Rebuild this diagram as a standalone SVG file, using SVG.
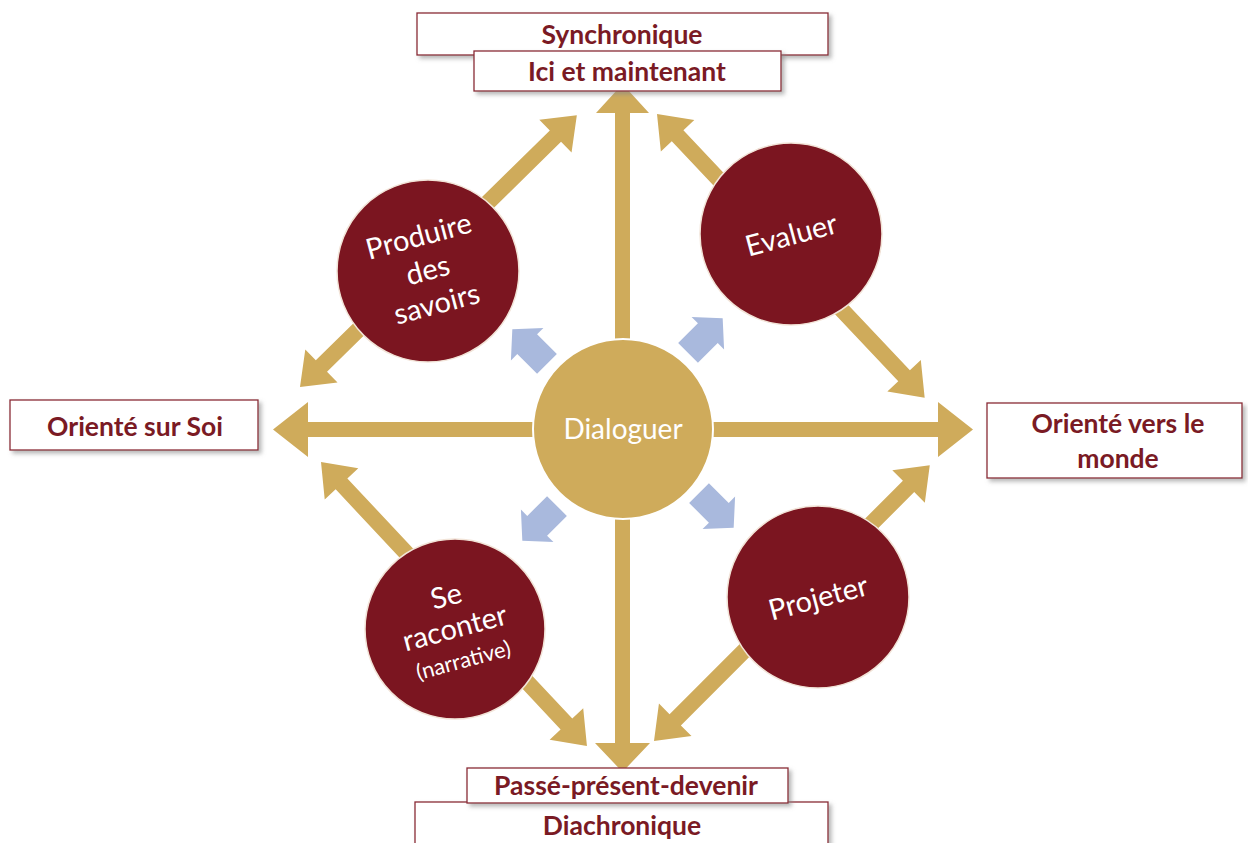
<svg xmlns="http://www.w3.org/2000/svg" width="1248" height="843" viewBox="0 0 1248 843">
<defs>
<filter id="sh" x="-10%" y="-20%" width="125%" height="160%">
<feDropShadow dx="3" dy="3" stdDeviation="2" flood-color="#888" flood-opacity="0.6"/>
</filter>
<path id="blue" d="M-24,-14 L4,-14 L4,-23 L25,0 L4,23 L4,14 L-24,14 Z"/>
</defs>
<style>
.box{fill:#fff;stroke:#8a2a35;stroke-width:1.3;filter:url(#sh)}
.lbl{font-family:Lato,"Liberation Sans",sans-serif;font-weight:bold;fill:#7a1a24;text-anchor:middle;font-size:26.5px}
.gold{fill:#cfab5b}
.red{fill:#7b1520;stroke:#f2e4d8;stroke-width:1.5}
.ctext{font-family:Lato,"Liberation Sans",sans-serif;fill:#ffffff;text-anchor:middle;font-size:29px}
.bl{fill:#a9b9dd}
</style>
<rect width="1248" height="843" fill="#fff"/>

<g id="connectors">
<polygon class="gold" points="622.5,84 649,113 630,113 630,743 650,743 622.5,772 595,743 615,743 615,113 596,113"/>
<polygon class="gold" points="273,429.5 308,402 308,422 938,422 938,402 973,429.5 938,457 938,437 308,437 308,457"/>
<g transform="translate(300,387) rotate(-44.48)">
<path class="gold" d="M0,0 L30,-23 L30,-8 L358,-8 L358,-23 L388,0 L358,23 L358,8 L30,8 L30,23 Z"/>
</g>
<g transform="translate(657,114) rotate(46.66)">
<path class="gold" d="M0,0 L30,-23 L30,-8 L360,-8 L360,-23 L390,0 L360,23 L360,8 L30,8 L30,23 Z"/>
</g>
<g transform="translate(321,462) rotate(46.87)">
<path class="gold" d="M0,0 L30,-23 L30,-8 L359,-8 L359,-23 L389,0 L359,23 L359,8 L30,8 L30,23 Z"/>
</g>
<g transform="translate(654,741) rotate(-45)">
<path class="gold" d="M0,0 L30,-23 L30,-8 L360,-8 L360,-23 L390,0 L360,23 L360,8 L30,8 L30,23 Z"/>
</g>
<use href="#blue" class="bl" transform="translate(530,347) rotate(-135)"/>
<use href="#blue" class="bl" transform="translate(705,336) rotate(-45)"/>
<use href="#blue" class="bl" transform="translate(540,523) rotate(135)"/>
<use href="#blue" class="bl" transform="translate(716,510) rotate(45)"/>
</g>

<g id="synchronique">
<rect class="box" x="417" y="13" width="411" height="42"/>
<text class="lbl" x="622" y="44">Synchronique</text>
</g>
<g id="ici">
<rect class="box" x="474" y="51" width="307" height="40"/>
<text class="lbl" x="627" y="81">Ici et maintenant</text>
</g>
<g id="diachronique">
<rect class="box" x="415" y="802" width="413" height="50"/>
<text class="lbl" x="622" y="835">Diachronique</text>
</g>
<g id="passe">
<rect class="box" x="467" y="768" width="321" height="35"/>
<text class="lbl" x="626" y="795">Passé-présent-devenir</text>
</g>
<g id="soi">
<rect class="box" x="10" y="400" width="248" height="50"/>
<text class="lbl" x="135" y="436">Orienté sur Soi</text>
</g>
<g id="monde">
<rect class="box" x="987" y="403" width="255" height="75"/>
<text class="lbl" x="1118" y="433">Orienté vers le</text>
<text class="lbl" x="1118" y="468">monde</text>
</g>

<g id="dialoguer">
<circle cx="623" cy="429" r="90" class="gold" stroke="#fff" stroke-width="2"/>
<text class="ctext" x="623" y="439" fill="#fdf8ec" style="font-size:28px">Dialoguer</text>
</g>
<g id="produire">
<circle class="red" cx="428" cy="271" r="91"/>
<g transform="rotate(-15 428 271)">
<text class="ctext" x="428" y="245">Produire</text>
<text class="ctext" x="428" y="280">des</text>
<text class="ctext" x="428" y="315">savoirs</text>
</g>
</g>
<g id="evaluer">
<circle class="red" cx="791" cy="234" r="91"/>
<text class="ctext" x="791" y="245" transform="rotate(-15 791 234)">Evaluer</text>
</g>
<g id="raconter">
<circle class="red" cx="455" cy="629" r="90"/>
<g transform="rotate(-15 455 629)">
<text class="ctext" x="455" y="605">Se</text>
<text class="ctext" x="455" y="638">raconter</text>
<text class="ctext" x="455" y="669" style="font-size:22px">(narrative)</text>
</g>
</g>
<g id="projeter">
<circle class="red" cx="818" cy="597" r="91"/>
<text class="ctext" x="818" y="608" transform="rotate(-15 818 597)">Projeter</text>
</g>
</svg>
